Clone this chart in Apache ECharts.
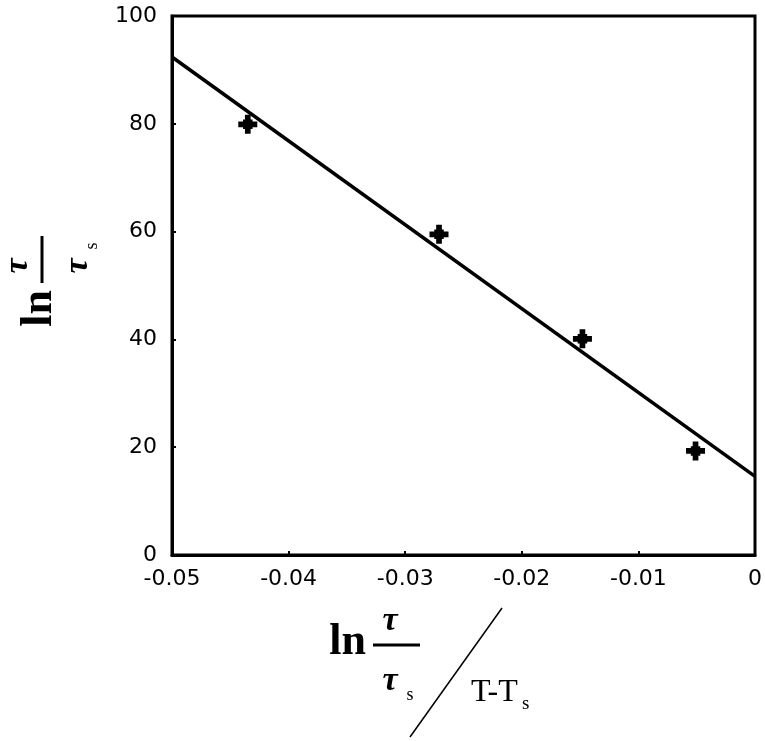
<!DOCTYPE html>
<html>
<head>
<meta charset="utf-8">
<script src="https://cdn.jsdelivr.net/npm/echarts@6/dist/echarts.min.js"></script>
<style>
  html, body { margin: 0; padding: 0; background: #fff; }
  #chart { width: 765px; height: 741px; }
</style>
</head>
<body>
<div id="chart"></div>
<script>
// 数据
const xTicks = [-0.05, -0.04, -0.03, -0.02, -0.01, 0]
const yTicks = [0, 20, 40, 60, 80, 100]
const pointX = [-0.0435, -0.0271, -0.0148, -0.0051]
const pointY = [79.9, 59.5, 40.1, 19.3]
const fitX = [-0.05, 0]
const fitY = [92.4, 14.6]

const serif = '"Liberation Serif", "Times New Roman", serif'
const sans = '"DejaVu Sans", Verdana, sans-serif'

// ln τ/τs 分式, (x,y) 为分数线中心
function lnFrac(x, y, rotation) {
    return {
        type: 'group',
        x: x,
        y: y,
        rotation: rotation,
        children: [
            { type: 'text', x: -30, y: 20, style: { text: 'ln', font: 'bold 44px ' + serif, fill: '#000', align: 'right', verticalAlign: 'bottom' } },
            { type: 'text', x: -6, y: -24, style: { text: 'τ', font: 'italic bold 34px ' + serif, fill: '#000', align: 'center', verticalAlign: 'middle' } },
            { type: 'line', shape: { x1: -23, y1: 0, x2: 24, y2: 0 }, style: { stroke: '#000', lineWidth: 3 } },
            { type: 'text', x: -6, y: 36, style: { text: 'τ', font: 'italic bold 34px ' + serif, fill: '#000', align: 'center', verticalAlign: 'middle' } },
            { type: 'text', x: 14, y: 50, style: { text: 's', font: '18px ' + serif, fill: '#000', align: 'center', verticalAlign: 'middle' } }
        ]
    }
}

let myChart = echarts.init(document.getElementById('chart'))
let option = {
    animation: false,
    grid: {
        left: 172,
        right: 9,
        top: 16,
        bottom: 186,
        show: true,
        borderColor: '#000',
        borderWidth: 3
    },
    xAxis: {
        type: 'value',
        min: xTicks[0],
        max: xTicks[xTicks.length - 1],
        interval: 0.01,
        axisLine: { onZero: false, lineStyle: { color: '#000', width: 3 } },
        axisTick: { inside: true, length: 4, lineStyle: { color: '#000', width: 2 } },
        axisLabel: {
            color: '#000',
            fontSize: 22,
            fontFamily: sans,
            margin: 13,
            formatter: function (v) {
                let s = xTicks.find(t => Math.abs(t - v) < 1e-9)
                return s === 0 ? '0' : String(s)
            }
        },
        splitLine: { show: false }
    },
    yAxis: {
        type: 'value',
        min: yTicks[0],
        max: yTicks[yTicks.length - 1],
        interval: 20,
        axisLine: { onZero: false, lineStyle: { color: '#000', width: 3 } },
        axisTick: { inside: true, length: 4, lineStyle: { color: '#000', width: 2 } },
        axisLabel: {
            color: '#000',
            fontSize: 22,
            fontFamily: sans,
            margin: 15
        },
        splitLine: { show: false }
    },
    series: [
        {
            type: 'line',
            data: fitX.map((x, i) => [x, fitY[i]]),
            symbol: 'none',
            lineStyle: { color: '#000', width: 3.5 }
        },
        {
            type: 'scatter',
            data: pointX.map((x, i) => [x, pointY[i]]),
            symbol: 'path://M7,0H13V5H15V7H20V13H15V15H13V20H7V15H5V13H0V7H5V5H7Z',
            symbolSize: 19,
            itemStyle: { color: '#000', opacity: 1 }
        }
    ],
    graphic: [
        lnFrac(396, 645, 0),
        lnFrac(42, 260, Math.PI / 2),
        { type: 'line', shape: { x1: 502, y1: 608, x2: 410, y2: 737 }, style: { stroke: '#000', lineWidth: 1.5 } },
        { type: 'text', x: 471, y: 693, style: { text: 'T-T', font: '32px ' + serif, fill: '#000', align: 'left', verticalAlign: 'middle' } },
        { type: 'text', x: 522, y: 704, style: { text: 's', font: '19px ' + serif, fill: '#000', align: 'left', verticalAlign: 'middle' } }
    ]
};
myChart.setOption(option)
window.addEventListener('resize', function () {
    myChart.resize()
})
</script>
</body>
</html>
